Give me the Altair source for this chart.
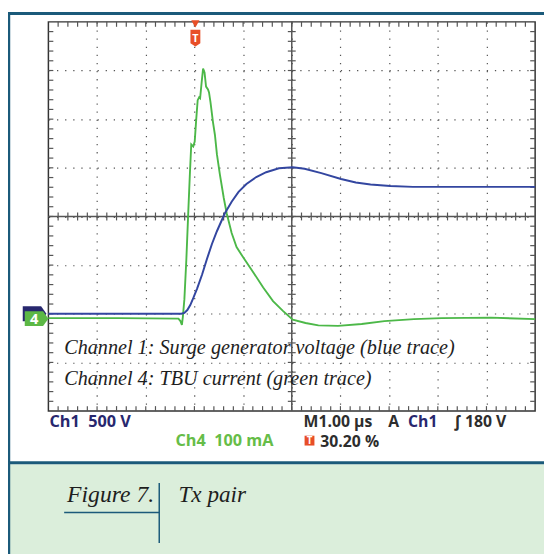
import altair as alt
import pandas as pd

# ---- data (time in µs relative to trigger) ----
ch1_t = [-3.02, -0.29, -0.226, -0.166, -0.105, -0.044, 0.037, 0.138, 0.239, 0.340, 0.442,
         0.603, 0.745, 0.887, 1.049, 1.251, 1.454, 1.717, 2.0, 2.243, 2.587, 2.992, 3.296,
         3.599, 4.004, 4.470, 6.98]
ch1_v = [0, 0, 8, 38, 89, 160, 261, 403, 565, 717, 848,
         1030, 1152, 1253, 1334, 1405, 1455, 1496, 1506, 1491, 1445, 1385, 1349,
         1329, 1314, 1304, 1304]

ch4_t = [-3.02, -1.583, -0.348, -0.307, -0.277, -0.257, -0.226, -0.186, -0.145, -0.115,
         -0.085, -0.044, -0.014, 0.016, 0.047, 0.077, 0.097, 0.128, 0.158, 0.188, 0.219,
         0.259, 0.280, 0.310, 0.361, 0.401, 0.442, 0.502, 0.583, 0.644, 0.745, 0.846,
         0.988, 1.191, 1.393, 1.595, 1.798, 2.0, 2.263, 2.527, 2.931, 3.417, 3.883,
         4.490, 5.057, 6.069, 6.98]
ch4_ma = [1, 1, 0, -5, -13, 4, 40, 121, 222, 293,
          358, 354, 364, 408, 449, 455, 453, 485, 514, 506, 477,
          471, 465, 445, 404, 378, 338, 297, 248, 216, 176, 147,
          125, 95, 64, 36, 16, -2, -9, -14, -15, -11, -5,
          -1, 1, 2, -1]

CH1_VOLTS_PER_DIV = 500
CH4_MA_PER_DIV = 100
CH1_GROUND_DIV = -2.0
CH4_GROUND_DIV = -2.1
T_LEFT = -3.02
T_RIGHT = 6.98

major_x = [T_LEFT + k for k in range(1, 10)]
major_y = [-3, -2, -1, 0, 1, 2, 3]
minor_x = [T_LEFT + 0.2 * k for k in range(1, 50)]
minor_y = [-4 + 0.2 * k for k in range(1, 40)]

W, H = 494, 395
cx, cy = W / 2, H / 2

FRAME = "#1b5a7a"
NAVY = "#27276e"
GREEN_TXT = "#66bd48"
DARK = "#2d2d2d"
BLUE = "#3346a0"
GREEN = "#4cb848"
ORANGE = "#e84e27"
TICK = "#555555"
NB = "\u00a0"

xs = alt.Scale(domain=[T_LEFT, T_RIGHT], nice=False, zero=False)
ys = alt.Scale(domain=[-4, 4], nice=False, zero=False)
xaxis = alt.Axis(values=major_x, grid=True, gridDash=[1.3, 6.93], gridColor="#555",
                 gridWidth=1.2, domain=False, ticks=False, labels=False, title=None)
yaxis = alt.Axis(values=major_y, grid=True, gridDash=[1.3, 6.93], gridColor="#555",
                 gridWidth=1.2, domain=False, ticks=False, labels=False, title=None)

def X(field):
    return alt.X(field, type="quantitative", scale=xs, axis=xaxis)

def Y(field):
    return alt.Y(field, type="quantitative", scale=ys, axis=yaxis)

one = pd.DataFrame({"a": [0]})
df1 = pd.DataFrame({"t": ch1_t, "v": ch1_v})
df4 = pd.DataFrame({"t": ch4_t, "ma": ch4_ma})
dfx = pd.DataFrame({"t": minor_x})
dfy = pd.DataFrame({"d": minor_y})

layers = []

# caption background & frame (decoration)
layers.append(alt.Chart(one).mark_rect(color="#dbeedb").encode(
    x=alt.value(-39), x2=alt.value(503), y=alt.value(449), y2=alt.value(540)))
layers.append(alt.Chart(one).mark_rule(color=FRAME, strokeWidth=3).encode(
    x=alt.value(-41), x2=alt.value(503), y=alt.value(-8.5)))
layers.append(alt.Chart(one).mark_rule(color=FRAME, strokeWidth=2.5).encode(
    x=alt.value(-40), y=alt.value(-10), y2=alt.value(540)))
layers.append(alt.Chart(one).mark_rule(color=FRAME, strokeWidth=3).encode(
    x=alt.value(-41), x2=alt.value(503), y=alt.value(447.5)))

# border minor ticks
layers.append(alt.Chart(dfx).mark_rule(color=TICK, strokeWidth=1.2).encode(
    x=X("t"), y=alt.value(0), y2=alt.value(5)))
layers.append(alt.Chart(dfx).mark_rule(color=TICK, strokeWidth=1.2).encode(
    x=X("t"), y=alt.value(H - 5), y2=alt.value(H)))
layers.append(alt.Chart(dfy).mark_rule(color=TICK, strokeWidth=1.2).encode(
    y=Y("d"), x=alt.value(0), x2=alt.value(5)))
layers.append(alt.Chart(dfy).mark_rule(color=TICK, strokeWidth=1.2).encode(
    y=Y("d"), x=alt.value(W - 5), x2=alt.value(W)))
# center crosshair
layers.append(alt.Chart(one).mark_rule(color=TICK, strokeWidth=1.5).encode(
    y=alt.Y(datum=0, scale=ys, axis=yaxis)))
layers.append(alt.Chart(one).mark_rule(color=TICK, strokeWidth=1.5).encode(
    x=alt.X(datum=T_LEFT + 5, scale=xs, axis=xaxis)))
layers.append(alt.Chart(dfx).mark_rule(color=TICK, strokeWidth=1.2).encode(
    x=X("t"), y=alt.value(cy - 4), y2=alt.value(cy + 4)))
layers.append(alt.Chart(dfy).mark_rule(color=TICK, strokeWidth=1.2).encode(
    y=Y("d"), x=alt.value(cx - 4), x2=alt.value(cx + 4)))

# traces
layers.append(alt.Chart(df4).transform_calculate(
    d=f"datum.ma / {CH4_MA_PER_DIV} + ({CH4_GROUND_DIV})").mark_line(
    color=GREEN, strokeWidth=1.9).encode(x=X("t"), y=Y("d")))
layers.append(alt.Chart(df1).transform_calculate(
    d=f"datum.v / {CH1_VOLTS_PER_DIV} + ({CH1_GROUND_DIV})").mark_line(
    color=BLUE, strokeWidth=2).encode(x=X("t"), y=Y("d")))

# trigger marker
layers.append(alt.Chart(one).mark_point(
    shape="triangle-down", filled=True, color=ORANGE, size=70, opacity=1).encode(
    x=alt.X(datum=0, scale=xs, axis=xaxis), y=alt.value(2)))
layers.append(alt.Chart(one).mark_point(
    shape="M-0.59,-1 L0.59,-1 L0.59,0.6 L0,1 L-0.59,0.6 Z", filled=True, color=ORANGE,
    size=289, opacity=1).encode(x=alt.X(datum=0, scale=xs, axis=xaxis), y=alt.value(16.5)))
layers.append(alt.Chart(one).mark_text(
    text="T", color="white", font="Open Sans", fontWeight="bold", fontSize=11, baseline="middle").encode(
    x=alt.X(datum=0, scale=xs, axis=xaxis), y=alt.value(17)))

# ground markers
pent = "M-1,-0.625 L0.55,-0.625 L1,0 L0.55,0.625 L-1,0.625 Z"
layers.append(alt.Chart(one).mark_point(
    shape=pent, filled=True, color=NAVY, size=576, opacity=1).encode(
    x=alt.value(-14), y=alt.Y(datum=CH1_GROUND_DIV, scale=ys, axis=yaxis)))
layers.append(alt.Chart(one).mark_point(
    shape=pent, filled=True, color="#5cb845", size=576, opacity=1).encode(
    x=alt.value(-12), y=alt.Y(datum=CH4_GROUND_DIV, scale=ys, axis=yaxis)))
layers.append(alt.Chart(one).mark_text(
    text="4", color="white", font="Open Sans", fontWeight="bold", fontSize=15, baseline="middle").encode(
    x=alt.value(-14.5), y=alt.Y(datum=CH4_GROUND_DIV, scale=ys, axis=yaxis)))

def txt(s, x, y, color=DARK, font="Open Sans", size=16.5, weight="bold", style="normal"):
    return alt.Chart(one).mark_text(
        text=s, color=color, font=font, fontSize=size, fontWeight=weight, fontStyle=style,
        align="left", baseline="alphabetic").encode(x=alt.value(x), y=alt.value(y))

# annotations inside plot
layers.append(txt("Channel 1: Surge generator voltage (blue trace)", 16, 337,
                  color="#1e1e1e", font="Liberation Serif", size=20.5, weight="normal", style="italic"))
layers.append(txt("Channel 4: TBU current (green trace)", 16, 369,
                  color="#1e1e1e", font="Liberation Serif", size=20.5, weight="normal", style="italic"))

# scope readouts
layers.append(txt(f"Ch1{NB}{NB}500{NB}V", 1, 411, color=NAVY))
layers.append(txt(f"Ch4{NB}{NB}100{NB}mA", 129, 430, color=GREEN_TXT))
layers.append(txt(f"M1.00{NB}µs", 259, 411, size=16))
layers.append(txt("A", 345, 411, size=16))
layers.append(txt("Ch1", 365, 411, color=NAVY, size=16))
layers.append(txt(f"∫{NB}180{NB}V", 412, 411, size=16))
layers.append(alt.Chart(one).mark_rect(color=ORANGE).encode(
    x=alt.value(260), x2=alt.value(270), y=alt.value(420), y2=alt.value(430)))
layers.append(alt.Chart(one).mark_text(
    text="T", color="white", font="Open Sans", fontWeight="bold", fontSize=10, baseline="middle").encode(
    x=alt.value(265), y=alt.value(425.5)))
layers.append(txt(f"30.20{NB}%", 276, 431.5, size=16))

# caption
layers.append(txt("Figure 7.", 19, 487, color="#1e1e1e", font="Liberation Serif", size=24,
                  weight="normal", style="italic"))
layers.append(txt("Tx pair", 132, 487, color="#1e1e1e", font="Liberation Serif", size=23.5,
                  weight="normal", style="italic"))
layers.append(alt.Chart(one).mark_rule(color=FRAME, strokeWidth=1.5).encode(
    x=alt.value(112.5), y=alt.value(468), y2=alt.value(529)))
layers.append(alt.Chart(one).mark_rule(color=FRAME, strokeWidth=1.5).encode(
    x=alt.value(16), x2=alt.value(112.5), y=alt.value(498)))

chart = alt.layer(*layers).properties(
    width=W, height=H,
    padding={"left": 41, "top": 10, "right": 9, "bottom": 141},
    autosize=alt.AutoSizeParams(type="none"),
).configure_view(stroke="#333333", strokeWidth=1.5)

chart.save("out.html", embed_options={"renderer": "svg", "actions": False})
